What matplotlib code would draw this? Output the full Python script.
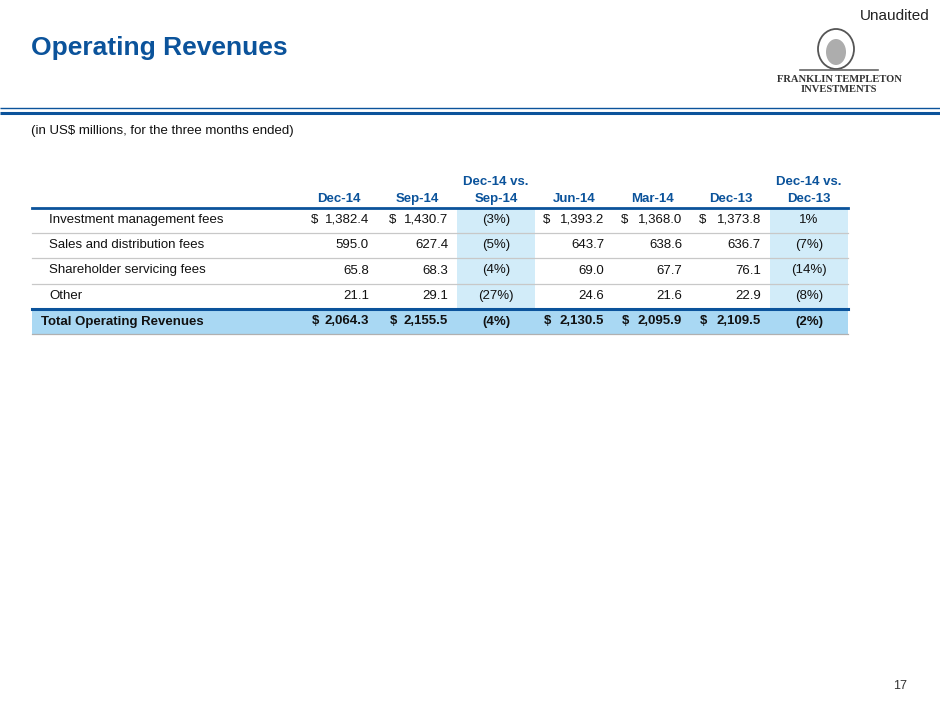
import matplotlib
matplotlib.use("Agg")
import matplotlib.pyplot as plt
from matplotlib.patches import Rectangle, Ellipse

# table data (US$ millions, three months ended)
row_labels = ["Investment management fees", "Sales and distribution fees",
              "Shareholder servicing fees", "Other"]
total_label = "Total Operating Revenues"
dec14 = [1382.4, 595.0, 65.8, 21.1]
sep14 = [1430.7, 627.4, 68.3, 29.1]
jun14 = [1393.2, 643.7, 69.0, 24.6]
mar14 = [1368.0, 638.6, 67.7, 21.6]
dec13 = [1373.8, 636.7, 76.1, 22.9]
totals = [2064.3, 2155.5, 2130.5, 2095.9, 2109.5]
chg_vs_sep14 = [-3, -5, -4, -27]
chg_vs_dec13 = [1, -7, -14, -8]
total_chg = [-4, -2]

BLUE = "#0b539b"
LIGHT = "#d2ecf9"
TOTALFILL = "#a9d8f3"
GRID = "#c8c8c8"
FONT = "Liberation Sans"

fig = plt.figure(figsize=(9.4, 7.05), dpi=100)
ax = fig.add_axes([0, 0, 1, 1])
ax.set_xlim(0, 940)
ax.set_ylim(705, 0)
ax.axis("off")

# header of the slide
ax.text(31, 48, "Operating Revenues", fontsize=19, fontweight="bold", color=BLUE,
        family=FONT, va="center", ha="left")
ax.text(930, 16, "Unaudited", fontsize=11, color="#222222", family=FONT,
        va="center", ha="right")
ax.plot([0, 940], [108, 108], color=BLUE, lw=1.0, solid_capstyle="butt")
ax.plot([0, 940], [113, 113], color=BLUE, lw=2.2, solid_capstyle="butt")
ax.text(31, 131, "(in US$ millions, for the three months ended)", fontsize=9.5,
        color="#111111", family=FONT, va="center", ha="left")
ax.text(900, 686, "17", fontsize=9, color="#333333", family=FONT, va="center", ha="center")

# logo stand-in
ax.add_patch(Ellipse((836, 49), 36, 40, fill=False, ec="#555555", lw=1.3))
ax.add_patch(Ellipse((836, 52), 20, 26, fc="#8a8a8a", ec="none", alpha=0.7))
ax.plot([800, 878], [70, 70], color="#666666", lw=1.2)
ax.text(839, 80, "FRANKLIN TEMPLETON", fontsize=7.6, fontweight="bold", color="#333333",
        family="Liberation Serif", va="center", ha="center")
ax.text(839, 90, "INVESTMENTS", fontsize=7.6, fontweight="bold", color="#333333",
        family="Liberation Serif", va="center", ha="center")

# table geometry
left, right = 32, 848
row_lines = [207.5, 232.5, 257.5, 283.5, 309, 334]
bands = [(457, 535), (770, 848)]
fs = 9.5

# shaded comparison columns and total row
for x0, x1 in bands:
    ax.add_patch(Rectangle((x0, row_lines[0]), x1 - x0, row_lines[4] - row_lines[0],
                           fc=LIGHT, ec="none"))
ax.add_patch(Rectangle((left, row_lines[4]), right - left, row_lines[5] - row_lines[4],
                       fc=TOTALFILL, ec="none"))
for y in row_lines[1:4]:
    ax.plot([left, right], [y, y], color=GRID, lw=0.9)
ax.plot([left, right], [row_lines[5], row_lines[5]], color="#b0b0b0", lw=0.9)
ax.plot([left, right], [row_lines[0], row_lines[0]], color=BLUE, lw=2.0)
ax.plot([left, right], [row_lines[4], row_lines[4]], color=BLUE, lw=2.2)

# columns: (header, values, right edge, dollar x, header center)
num_cols = [("Dec-14", dec14, 369, 315, 339),
            ("Sep-14", sep14, 448, 393, 417),
            ("Jun-14", jun14, 604, 547, 574),
            ("Mar-14", mar14, 682, 625, 653),
            ("Dec-13", dec13, 761, 703, 731)]
pct_cols = [("Dec-14 vs.", "Sep-14", chg_vs_sep14, 496),
            ("Dec-14 vs.", "Dec-13", chg_vs_dec13, 809)]


def pct(v):
    return "(%d%%)" % abs(v) if v < 0 else "%d%%" % v


row_y = [(row_lines[i] + row_lines[i + 1]) / 2 for i in range(5)]

for i, lab in enumerate(row_labels):
    ax.text(49, row_y[i], lab, fontsize=fs, family=FONT, va="center", ha="left", color="#111111")
ax.text(41, row_y[4], total_label, fontsize=fs, family=FONT, fontweight="bold",
        va="center", ha="left", color="#111111")

for j, (hdr, vals, xr, xd, xc) in enumerate(num_cols):
    ax.text(xc, 199, hdr, fontsize=fs, family=FONT, fontweight="bold", color=BLUE,
            va="center", ha="center")
    for i, v in enumerate(vals):
        ax.text(xr, row_y[i], "{:,.1f}".format(v), fontsize=fs, family=FONT,
                va="center", ha="right", color="#111111")
        if i == 0:
            ax.text(xd, row_y[i], "$", fontsize=fs, family=FONT, va="center",
                    ha="center", color="#111111")
    ax.text(xr, row_y[4], "{:,.1f}".format(totals[j]), fontsize=fs, family=FONT,
            fontweight="bold", va="center", ha="right", color="#111111")
    ax.text(xd, row_y[4], "$", fontsize=fs, family=FONT, fontweight="bold",
            va="center", ha="center", color="#111111")

for j, (hdr1, hdr2, vals, xc) in enumerate(pct_cols):
    ax.text(xc, 182, hdr1, fontsize=fs, family=FONT, fontweight="bold", color=BLUE,
            va="center", ha="center")
    ax.text(xc, 199, hdr2, fontsize=fs, family=FONT, fontweight="bold", color=BLUE,
            va="center", ha="center")
    for i, v in enumerate(vals):
        ax.text(xc, row_y[i], pct(v), fontsize=fs, family=FONT, va="center",
                ha="center", color="#111111")
    ax.text(xc, row_y[4], pct(total_chg[j]), fontsize=fs, family=FONT, fontweight="bold",
            va="center", ha="center", color="#111111")

fig.savefig("out.png", dpi=100)
